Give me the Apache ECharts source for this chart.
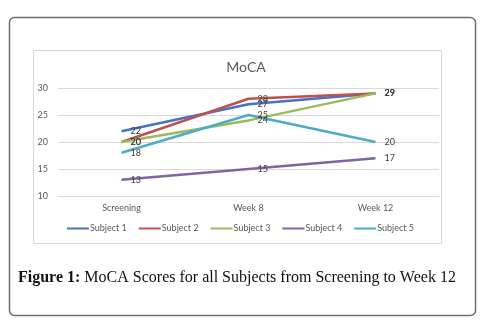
<!DOCTYPE html>
<html>
<head>
<meta charset="utf-8">
<script src="https://cdn.jsdelivr.net/npm/echarts@6/dist/echarts.min.js"></script>
<style>
  html, body { margin: 0; padding: 0; background: #fff; }
  #chart { width: 481px; height: 322px; }
</style>
</head>
<body>
<div id="chart"></div>
<script>
const categories = ['Screening', 'Week 8', 'Week 12']
const subjectNames = ['Subject 1', 'Subject 2', 'Subject 3', 'Subject 4', 'Subject 5']
const subject1 = [22, 27, 29]
const subject2 = [20, 28, 29]
const subject3 = [20, 24, 29]
const subject4 = [13, 15, 17]
const subject5 = [18, 25, 20]
const yTicks = [10, 15, 20, 25, 30]

const colors = ['#4472C4', '#C0504D', '#9BBB59', '#8064A2', '#4BACC6']
const allData = [subject1, subject2, subject3, subject4, subject5]
const uiFont = 'Lato, "Open Sans", sans-serif'

const chart = echarts.init(document.getElementById('chart'), null, { renderer: 'canvas' })

chart.setOption({
  animation: false,
  color: colors,
  title: {
    text: 'MoCA',
    left: 241, top: 55,
    textAlign: 'center',
    textStyle: { fontFamily: uiFont, fontSize: 14, fontWeight: 'normal', color: '#595959' }
  },
  legend: {
    bottom: 84,
    left: 'center',
    icon: 'rect',
    itemWidth: 22, itemHeight: 2,
    itemGap: 12,
    textStyle: { fontFamily: uiFont, fontSize: 9, color: '#595959', padding: [0, 0, 0, -4] },
    data: subjectNames
  },
  grid: { left: 58, right: 42, top: 88, bottom: 126 },
  xAxis: {
    type: 'category',
    data: categories,
    boundaryGap: true,
    axisLine: { lineStyle: { color: '#d9d9d9' } },
    axisTick: { show: false },
    axisLabel: { fontFamily: uiFont, fontSize: 9, color: '#595959', margin: 8 }
  },
  yAxis: {
    type: 'value',
    min: yTicks[0],
    max: yTicks[yTicks.length - 1],
    interval: 5,
    axisLine: { show: false },
    axisTick: { show: false },
    splitLine: { lineStyle: { color: '#d9d9d9' } },
    axisLabel: { fontFamily: uiFont, fontSize: 9, color: '#595959', margin: 10 }
  },
  series: allData.map((d, i) => ({
    name: subjectNames[i],
    type: 'line',
    data: d,
    showSymbol: true,
    symbol: 'circle',
    symbolSize: 0.1,
    lineStyle: { width: 2.5 },
    label: {
      show: true,
      position: 'right',
      distance: 9,
      fontFamily: uiFont,
      fontSize: 9,
      color: '#404040'
    },
    labelLayout: { hideOverlap: false }
  })),
  graphic: [
    {
      type: 'rect',
      shape: { x: 9.5, y: 17.5, width: 466, height: 298, r: 5 },
      style: { fill: 'none', stroke: '#6e6e6e', lineWidth: 1.5 },
      z: -10
    },
    {
      type: 'rect',
      shape: { x: 33.5, y: 50.5, width: 408, height: 193 },
      style: { fill: 'none', stroke: '#d9d9d9', lineWidth: 1 },
      z: -10
    },
    {
      type: 'text',
      left: 18, top: 270,
      style: {
        text: '{b|Figure 1:} MoCA Scores for all Subjects from Screening to Week 12',
        fontFamily: '"Liberation Serif", "DejaVu Serif", serif',
        fontSize: 16,
        fill: '#111',
        rich: {
          b: { fontFamily: '"Liberation Serif", serif', fontSize: 16, fontWeight: 'bold', fill: '#111' }
        }
      }
    }
  ]
})

window.addEventListener('resize', () => chart.resize())
</script>
</body>
</html>
